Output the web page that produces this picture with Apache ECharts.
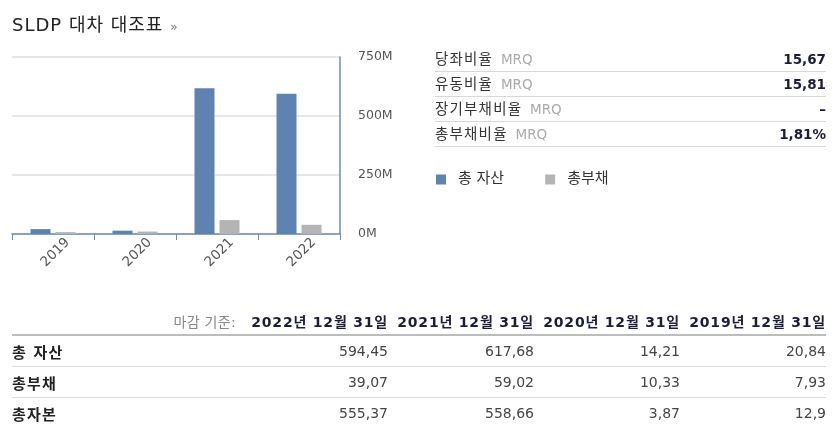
<!DOCTYPE html>
<html>
<head>
<meta charset="utf-8">
<script src="https://cdn.jsdelivr.net/npm/echarts@6/dist/echarts.min.js"></script>
<style>
  body { margin: 0; background: #fff; font-family: "DejaVu Sans", "Noto Sans CJK KR", sans-serif; }
  #wrap { position: relative; width: 833px; height: 426px; overflow: hidden; }
  #chart { position: absolute; left: 0; top: 0; width: 833px; height: 426px; }
  .title { position: absolute; left: 12px; top: 10px; font-size: 18px; color: #222; letter-spacing: 1px; }
  .title span { font-size: 12px; color: #777; }
  .ratios { position: absolute; left: 435px; top: 47px; width: 391px; }
  .ratios .row { height: 24px; line-height: 24px; border-bottom: 1px solid #d8d8d8; font-size: 14.5px; color: #333; display: flex; justify-content: space-between; }
  .ratios .row span { letter-spacing: 1.2px; }
  .ratios .row em { font-style: normal; color: #aaa; font-size: 13.5px; letter-spacing: 0; margin-left: 2px; }
  .ratios .row b { color: #1c1c3c; font-size: 13.5px; }
  table { position: absolute; left: 12px; top: 307px; border-collapse: collapse; font-size: 14px; table-layout: fixed; }
  th { font-weight: bold; color: #1c1c3c; text-align: right; height: 27px; padding: 0; border-bottom: 2px solid #bcbcbc; white-space: nowrap; letter-spacing: 0.8px; }
  th.lab { font-weight: normal; color: #888; letter-spacing: 0.3px; }
  td { text-align: right; color: #444; height: 30px; padding: 0; border-bottom: 1px solid #dcdcdc; }
  td.lab { text-align: left; font-weight: bold; color: #222; font-size: 15px; letter-spacing: 1.2px; }
  tr:last-child td { border-bottom: none; }
</style>
</head>
<body>
<div id="wrap">
  <div id="chart"></div>
  <div class="title">SLDP 대차 대조표 <span>»</span></div>
  <div class="ratios" id="ratios"></div>
  <table id="tbl"></table>
</div>
<script>
// 차트 데이터 (백만 단위, 연도순)
const years = ['2019', '2020', '2021', '2022'];
const totalAssets = [20.84, 14.21, 617.68, 594.45];
const totalLiabilities = [7.93, 10.33, 59.02, 39.07];
const totalEquity = [12.9, 3.87, 558.66, 555.37];
const dateLabels = ['2019년 12월 31일', '2020년 12월 31일', '2021년 12월 31일', '2022년 12월 31일'];
const ratioNames = ['당좌비율', '유동비율', '장기부채비율', '총부채비율'];
const ratioValues = ['15,67', '15,81', '–', '1,81%'];
const seriesNames = ['총 자산', '총부채', '총자본'];

// 비율 표
let rh = '';
ratioNames.forEach(function(n, i) {
    rh += '<div class="row"><span>' + n + ' <em>MRQ</em></span><b>' + ratioValues[i] + '</b></div>';
});
document.getElementById('ratios').innerHTML = rh;

// 하단 표 (최근 연도부터)
const fmt = v => String(v).replace('.', ',');
const order = [3, 2, 1, 0];
let th = '<tr><th class="lab" style="width:230px"><span style="padding-right:6px">마감 기준:</span></th>';
order.forEach(i => { th += '<th style="width:146px">' + dateLabels[i] + '</th>'; });
th += '</tr>';
[totalAssets, totalLiabilities, totalEquity].forEach(function(arr, k) {
    th += '<tr><td class="lab">' + seriesNames[k] + '</td>';
    order.forEach(i => { th += '<td>' + fmt(arr[i]) + '</td>'; });
    th += '</tr>';
});
document.getElementById('tbl').innerHTML = th;

const chart = echarts.init(document.getElementById('chart'));
chart.setOption({
    animation: false,
    textStyle: { fontFamily: '"DejaVu Sans", "Noto Sans CJK KR", sans-serif' },
    legend: {
        left: 431, top: 167,
        icon: 'rect', itemWidth: 10, itemHeight: 10, itemGap: 41,
        textStyle: { fontSize: 15, color: '#333', padding: [0, 0, 0, 7] },
        data: [seriesNames[0], seriesNames[1]]
    },
    grid: { left: 12, top: 57, width: 328, height: 177 },
    xAxis: {
        type: 'category',
        data: years,
        axisLine: { lineStyle: { color: '#6d8bb5', width: 1.5 } },
        axisTick: { show: true, length: 6, lineStyle: { color: '#6d8bb5' } },
        axisLabel: { rotate: 45, align: 'center', verticalAlign: 'middle', margin: 21, padding: [7, 0, 0, 7], fontSize: 13.5, color: '#555' }
    },
    yAxis: {
        type: 'value',
        position: 'right',
        min: 0, max: 750, interval: 250,
        axisLine: { show: true, lineStyle: { color: '#6d8bb5', width: 1.5 } },
        axisTick: { show: false },
        axisLabel: { formatter: '{value}M', fontSize: 12.5, color: '#555', margin: 18 },
        splitLine: { lineStyle: { color: '#e6e6e6', width: 2 } }
    },
    series: [
        { name: seriesNames[0], type: 'bar', data: totalAssets, barWidth: 20, barGap: '25%', itemStyle: { color: '#5f83b1' } },
        { name: seriesNames[1], type: 'bar', data: totalLiabilities, barWidth: 20, itemStyle: { color: '#b4b4b4' } }
    ]
});
</script>
</body>
</html>
